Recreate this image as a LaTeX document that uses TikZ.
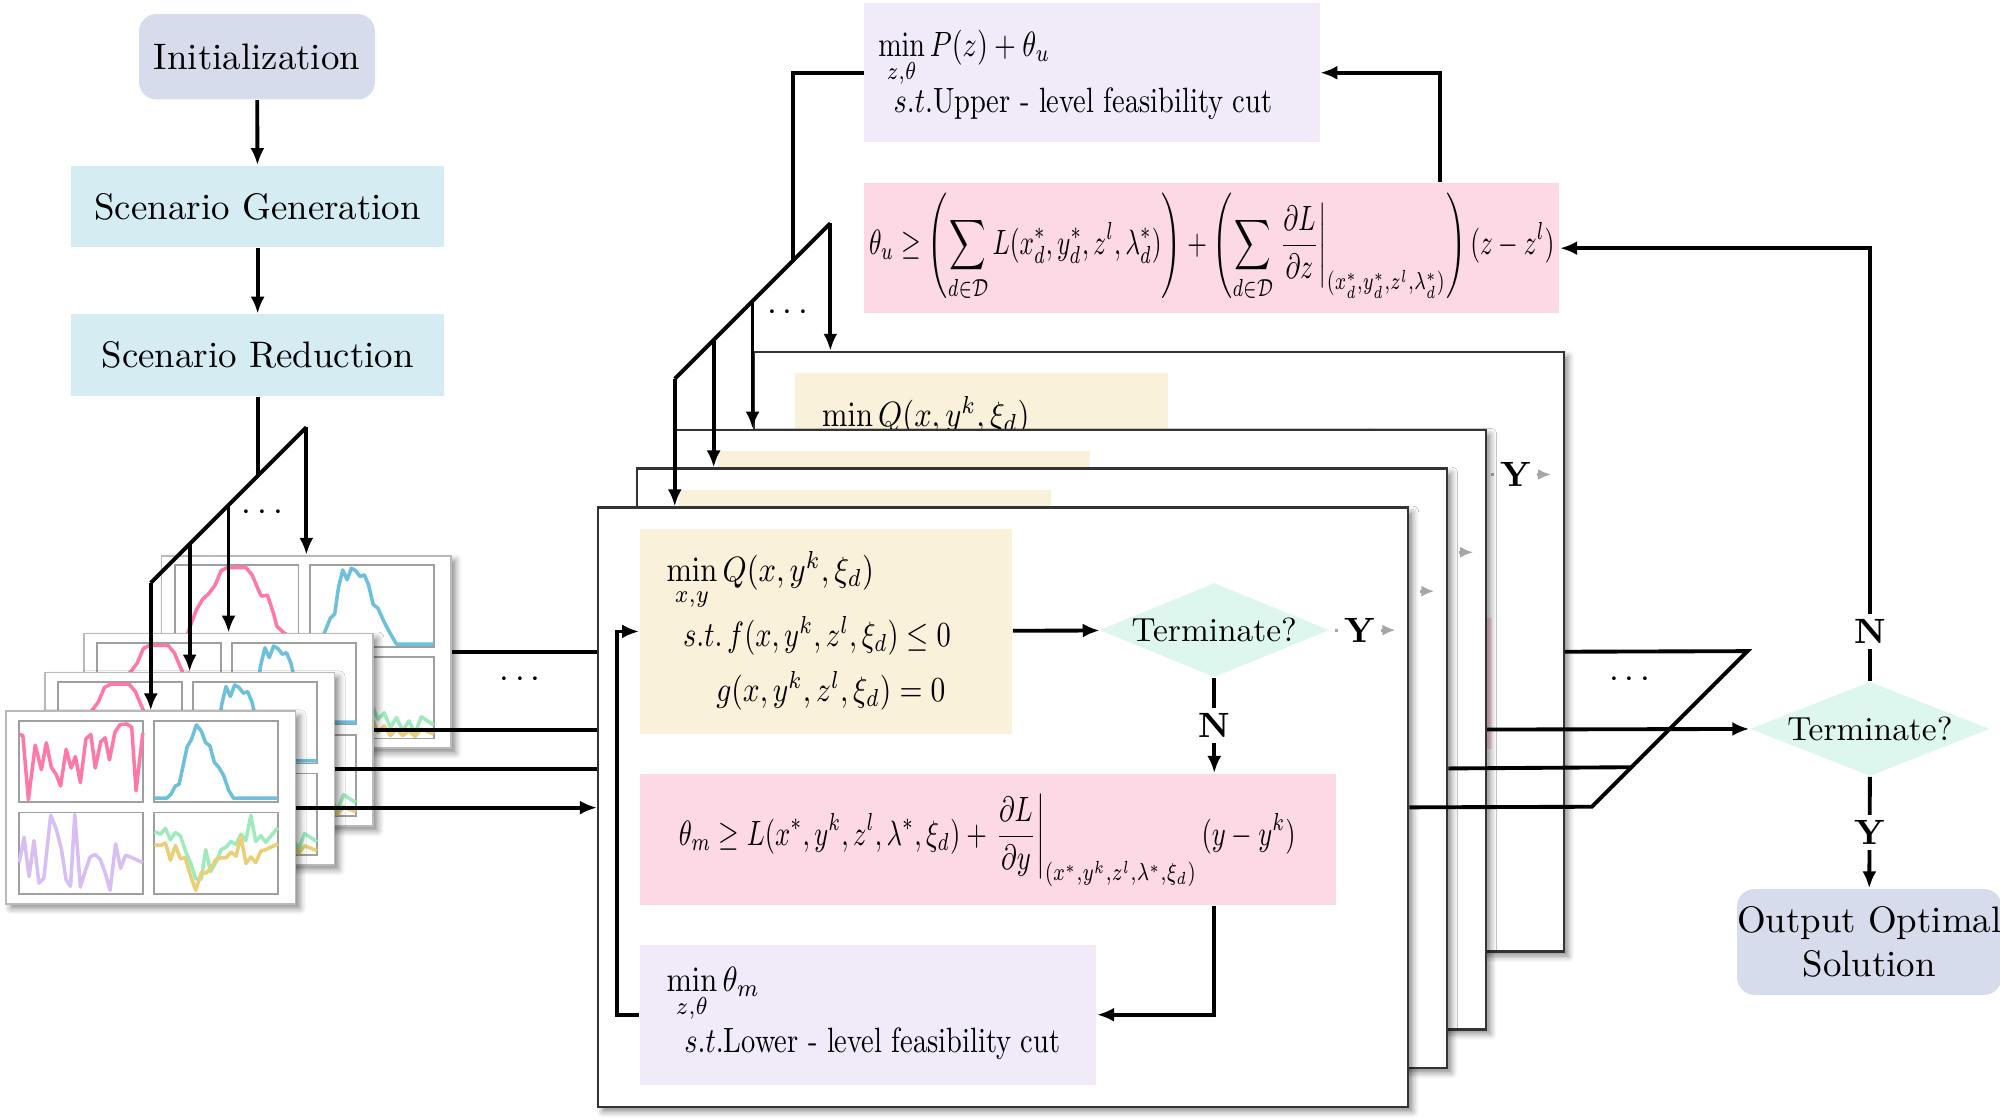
\documentclass[tikz,border=0pt]{standalone}
\usepackage{amsmath,amssymb,graphicx}
\usetikzlibrary{arrows.meta,positioning,calc,shapes.geometric,shadows.blur}

\definecolor{initblue}{HTML}{D7DCEC}
\definecolor{scenblue}{HTML}{D5ECF2}
\definecolor{lavbox}{HTML}{F0EAF9}
\definecolor{pinkbox}{HTML}{FDD8E5}
\definecolor{yelbox}{HTML}{FAF1DA}
\definecolor{mintbox}{HTML}{DEF7EE}
\definecolor{plotpink}{HTML}{FF78A6}
\definecolor{plotblue}{HTML}{6CC0DB}
\definecolor{plotpurple}{HTML}{D7BEF3}
\definecolor{plotgreen}{HTML}{9DEBBB}
\definecolor{plotyellow}{HTML}{EACF76}

\newcommand{\pxu}{0.012755cm}
% narrow the formulas the way the original typesetting does
\newcommand{\squeeze}[2]{\scalebox{#1}[1]{#2}}
% one curve in a panel: #1,#2 lower left corner, #3 colour, #4 points (x 0..20, y 0..10)
\newcommand{\curve}[4]{\draw[plotline,#3,shift={(#1,#2)},x=0.06186cm,y=0.08163cm] plot coordinates {#4};}

\newcommand{\plotsfront}{%
  \curve{11}{72}{plotpink}{(0,8.3)(0.6,8.2)(1.5,0.3)(2.6,7)(3.6,4)(4.4,7.3)(5.2,4.3)(6,3.4)(6.7,2)(7.6,6.5)(8.4,4.2)(9.1,5.6)(9.9,2.4)(10.8,7.8)(11.6,8.3)(12.3,4.2)(13.2,7.4)(13.9,7.9)(14.6,5.2)(15.5,8.6)(16.3,9.5)(17.4,9.6)(18.2,9.2)(18.9,1.4)(20,8.5)}
  \curve{117}{72}{plotblue}{(0,0.5)(2,0.5)(2.7,1)(3.4,2)(4,2.2)(4.6,4.3)(5.3,6.8)(6,7.7)(6.8,9.5)(7.6,8.7)(8.3,7.3)(9,6.9)(9.7,4.9)(10.4,4.3)(11.2,3.3)(12,1.5)(12.8,0.5)(20,0.5)}
  \curve{11}{143}{plotpurple}{(0,3.7)(0.8,6.8)(1.6,2)(2.4,6.4)(3.2,1.2)(4,1.8)(5.1,9.5)(6,7.8)(6.8,5.5)(7.6,1.6)(8.3,0.8)(9,9.6)(9.9,0.7)(10.7,2.7)(11.5,4.4)(12.3,4.7)(13.1,4.1)(13.9,2.5)(14.7,0.3)(15.6,6)(16.4,3)(17.2,4.6)(18,4.4)(20,3.7)}
  \curve{117}{143}{plotgreen}{(0,7.5)(1,7.2)(1.8,7.9)(2.6,6.5)(3.4,7.4)(4.2,7)(5,5.2)(5.9,3.6)(6.7,1.7)(7.6,1.7)(8.3,5.3)(9.1,2.6)(10,3.8)(10.8,5.3)(11.6,5.6)(12.4,6.3)(13.2,5.9)(14,7.2)(14.8,6.4)(15.6,9.5)(16.4,6.3)(17.2,7)(18,6.2)(20,8)}
  \curve{117}{143}{plotyellow}{(0,5.9)(1,5.8)(1.8,6.1)(2.6,4)(3.4,5.8)(4.2,4.2)(5,4.3)(5.9,2)(6.7,0.3)(7.6,2.5)(8.3,2.4)(9.1,3)(10,4.1)(10.8,4.3)(11.6,4.3)(12.4,5)(13.2,4.5)(14,6.9)(14.8,3.6)(15.6,4.4)(16.4,3.7)(17.2,5.1)(18,5.3)(20,6)}}

\newcommand{\plotsback}{%
  \curve{11}{72}{plotpink}{(1.5,0.2)(2.5,2.5)(3.5,4.5)(4.5,5.8)(5.5,6.5)(6.5,7.5)(7.5,9.3)(8.5,9.7)(11.5,9.7)(12.5,8.8)(13.5,7)(14,6.2)(15,6.3)(16,4)(16.5,2.5)(17.5,1.8)(19,1)(20,0.3)}
  \curve{117}{72}{plotblue}{(0,0.3)(1.5,0.3)(2.5,2)(3.3,3.5)(4,4)(4.6,7.2)(5.3,9.4)(6,8.2)(6.7,9.6)(7.4,9.3)(8.1,8.6)(8.8,8.8)(9.5,7.5)(10.2,5.2)(11,4.7)(12,3)(13,1.6)(14,0.3)(20,0.3)}
  \curve{11}{143}{plotpurple}{(0,3.7)(0.8,6.8)(1.6,2)(2.4,6.4)(3.2,1.2)(4,1.8)(5.1,9.5)(6,7.8)(6.8,5.5)(7.6,1.6)(8.3,0.8)(9,9.6)(9.9,0.7)(10.7,2.7)(11.5,4.4)(12.3,4.7)(13.1,4.1)(14.7,0.3)(15.6,6)(17.2,4.6)(20,3.7)}
  \curve{117}{143}{plotgreen}{(0,8.8)(1,7)(1.8,7.6)(2.6,6)(3.6,6.8)(4.6,8.3)(5.5,5.8)(6.3,5.6)(7,5.8)(7.8,3.2)(8.6,4.8)(9.4,2.4)(10.2,3.6)(11,2.2)(12,3)(13,1.2)(14,2.4)(15,0.8)(16,2)(17,0.5)(18,2.5)(20,1.5)}
  \curve{117}{143}{plotyellow}{(0,6.8)(1,5)(1.8,5.8)(2.6,4.2)(3.6,5)(4.6,6.4)(5.5,4)(6.3,3.8)(7,4)(7.8,1.5)(8.6,3)(9.4,0.8)(10.2,2)(11,0.6)(12,1.4)(13,0.2)(14,1)(15,0.2)(16,0.8)(17,0.1)(18,1)(20,0.4)}}

\begin{document}
\begin{tikzpicture}[x=0.012755cm, y=-0.012755cm,
  line/.style={line width=1.1pt},
  arrow/.style={line, -{Latex[length=1.7mm,width=1.4mm]}},
  startbox/.style={fill=initblue, rounded corners=5pt, inner sep=0pt, align=center, font=\fontsize{10.5}{12.5}\selectfont},
  scenbox/.style={fill=scenblue, inner sep=0pt, minimum width=292*\pxu, minimum height=64*\pxu, font=\fontsize{10.5}{12.5}\selectfont},
  card/.style={draw=gray!55, line width=0.5pt, fill=white, inner sep=0pt, minimum width=227*\pxu, minimum height=151*\pxu,
    blur shadow={shadow xshift=1.3pt, shadow yshift=-1.3pt, shadow blur steps=5, shadow opacity=45}},
  panel/.style={draw=gray!75, line width=0.5pt},
  plotline/.style={line width=1pt, line join=round},
  frame/.style={draw=black!80, line width=0.7pt, fill=white, inner sep=0pt, minimum width=635*\pxu, minimum height=470*\pxu,
    blur shadow={shadow xshift=1.3pt, shadow yshift=-1.3pt, shadow blur steps=5, shadow opacity=45}},
  cond/.style={fill=yelbox, inner sep=0pt, minimum width=292*\pxu, minimum height=161*\pxu},
  cut/.style={fill=pinkbox, inner sep=0pt},
  master/.style={fill=lavbox, inner sep=0pt},
  decide/.style={diamond, aspect=2.4, fill=mintbox, inner sep=0pt, font=\fontsize{9.5}{11}\selectfont},
  mathtxt/.style={inner sep=0pt, font=\fontsize{10}{12}\selectfont},
  yn/.style={fill=white, inner sep=1.5pt, font=\bfseries\fontsize{10}{12}\selectfont},
  gy/.style={gray!70, line width=0.9pt},
  dots/.style={font=\fontsize{10}{12}\selectfont}
]
\useasboundingbox (0,0) rectangle (1568,877);

% left column
\node[startbox, minimum width=185*\pxu, minimum height=67*\pxu] (init) at (201.5,44.5) {Initialization};
\node[scenbox] (gen) at (202,162) {Scenario Generation};
\node[scenbox] (red) at (202,278.5) {Scenario Reduction};
\draw[arrow] (init) -- (gen);
\draw[arrow] (gen) -- (red);

% scenario cards, back to front
\foreach \off/\idx in {122/A,61/B,30.5/C,0/D}{
  \begin{scope}[shift={(4+\off,557-\off)}]
    \node[card, anchor=north west] (card\idx) at (0,0) {};
    \foreach \px/\py in {11/8,117/8,11/80,117/80}
      \draw[panel] (\px,\py) rectangle ++(97,64);
    \if\idx D\plotsfront\else\plotsback\fi
  \end{scope}
}

% branches to the cards
\foreach \idx in {A,B,C,D}
  \coordinate (ld\idx) at ($(card\idx.north)+(0,-100)$);
\coordinate (lt) at (202,372.5);
\draw[line] (red) -- (lt);
\draw[line] (ldA) -- (ldD);
\foreach \idx in {A,B,C,D}
  \draw[arrow] (ld\idx) -- (card\idx.north);
\node[dots] (ldots) at (208,402) {$\cdots$};

% subproblem frames, back to front (texts only where they show)
\foreach \off/\n in {122/4,61/3,30.5/2,0/1}{
  \begin{scope}[shift={(468+\off,397-\off)}]
    \node[frame, anchor=north west] (frm\n) at (0,0) {};
    \node[cond, anchor=north west] (yel\n) at (33,17) {};
    \ifnum\n=1
      \node[mathtxt, anchor=base west] (yq\n) at (54,59) {\squeeze{0.87}{$\min\limits_{x,y} Q(x,y^k,\xi_d)$}};
      \node[mathtxt, anchor=base west] (yf\n) at (67,110) {\squeeze{0.81}{$s.t.\,f(x,y^k,z^l,\xi_d)\le 0$}};
      \node[mathtxt, anchor=base west] (yg\n) at (93,153) {\squeeze{0.84}{$g(x,y^k,z^l,\xi_d)=0$}};
    \fi
    \ifnum\n=4
      \node[mathtxt, anchor=base west] (yq\n) at (54,59) {\squeeze{0.87}{$\min\limits_{x,y} Q(x,y^k,\xi_d)$}};
    \fi
    \node[decide, minimum width=180*\pxu, minimum height=74*\pxu] (dia\n) at (484,97) {\ifnum\n=1 Terminate?\fi};
    \node[yn, fill=none] (yl\n) at (598,97) {\ifnum\n=2 \phantom{Y}\else\ifnum\n=3 \phantom{Y}\else Y\fi\fi};
    \coordinate (ye\n) at (626,97);
    \node[cut, anchor=north west, minimum width=546*\pxu, minimum height=103*\pxu] (pink\n) at (33,209) {};
    \node[master, anchor=north west, minimum width=358*\pxu, minimum height=110*\pxu] (lav\n) at (33,343) {};
    \ifnum\n=1
      \node[mathtxt] (pf\n) at (306,262) {\squeeze{0.755}{$\displaystyle \theta_m \ge L(x^*,y^k,z^l,\lambda^*,\xi_d)+\left.\frac{\partial L}{\partial y}\right|_{(x^*,y^k,z^l,\lambda^*,\xi_d)}(y-y^k)$}};
      \node[mathtxt, anchor=base west] (lm\n) at (54,380) {\squeeze{0.87}{$\min\limits_{z,\theta}\theta_m$}};
      \node[mathtxt, anchor=base west] (ls\n) at (68,428) {\squeeze{0.81}{$s.t.$Lower - level feasibility cut}};
    \fi
    \draw[arrow] (yel\n) -- (dia\n);
    \draw[gy, shorten <=1.5pt] (dia\n.east) -- (yl\n.west);
    \draw[gy, -{Latex[length=1.3mm,width=1.1mm]}] (yl\n.east) -- (ye\n);
    \draw[arrow] (dia\n) -- node[yn]{\ifnum\n=1 N\fi} (pink\n.north -| dia\n);
    \draw[arrow] (pink\n.south -| dia\n) |- (lav\n.east);
    \draw[arrow] (lav\n.west) -- ++(-17,0) |- (yel\n.west);
  \end{scope}
}

% card outputs into the subproblems
\draw[line] (cardA.east) -- (cardA.east -| frm1.west);
\draw[line] (cardB.east) -- (cardB.east -| frm1.west);
\draw[line] (cardC.east) -- (cardC.east -| frm1.west);
\draw[arrow] (cardD.east) -- (cardD.east -| frm1.west);
\node[dots] (cdots) at (410,533) {$\cdots$};

% master problem
\node[master, anchor=north west, minimum width=357*\pxu, minimum height=109*\pxu] (umas) at (677,2) {};
\node[mathtxt, anchor=base west] (umin) at (688,44) {\squeeze{0.8}{$\min\limits_{z,\theta} P(z)+\theta_u$}};
\node[mathtxt, anchor=base west] (ust) at (700,88) {\squeeze{0.81}{$s.t.$Upper - level feasibility cut}};
\node[cut, anchor=north west, minimum width=545*\pxu, minimum height=102*\pxu] (ucut) at (677,143) {};
\node[mathtxt] (ucf) at (950,194) {\squeeze{0.72}{$\displaystyle \theta_u \ge \left(\sum_{d\in\mathcal{D}} L(x_d^*,y_d^*,z^l,\lambda_d^*)\right)+\left(\sum_{d\in\mathcal{D}}\left.\frac{\partial L}{\partial z}\right|_{(x_d^*,y_d^*,z^l,\lambda_d^*)}\right)(z-z^l)$}};
\draw[arrow] ($(ucut.north east)+(-94,0)$) |- (umas.east);

% branches to the subproblems
\foreach \n in {1,2,3,4}
  \coordinate (td\n) at ($(frm\n.north west)+(61,-100)$);
\coordinate (tt) at (622,204);
\draw[line] (umas.west) -| (tt);
\draw[line] (td4) -- (td1);
\foreach \n in {1,2,3,4}
  \draw[arrow] (td\n) -- (td\n |- frm\n.north);
\node[dots] (tdots) at (620,245) {$\cdots$};

% convergence check
\node[decide, minimum width=188*\pxu, minimum height=74*\pxu, font=\fontsize{9.5}{11}\selectfont] (term) at (1466,571.5) {Terminate?};
\node[startbox, minimum width=201*\pxu, minimum height=83*\pxu] (out) at (1465.5,738.5) {Output Optimal\\Solution};
\coordinate (mtop) at (1370,510.5);
\coordinate (mmid) at (1279,601.5);
\coordinate (mbot) at (1248,632.5);
\draw[line] (frm4.east) -- (mtop) -- (mbot) -- (frm1.east);
\draw[line] (frm2.east) -- (mmid);
\draw[arrow] (frm3.east) -- (term.west);
\node[dots] (rdots) at (1280,533) {$\cdots$};
\draw[arrow] (term.north) -- node[yn, pos=0.115]{N} (term.north |- ucut.east) -- (ucut.east);
\draw[arrow] (term.south) -- node[yn]{Y} (out.north);
\end{tikzpicture}
\end{document}
